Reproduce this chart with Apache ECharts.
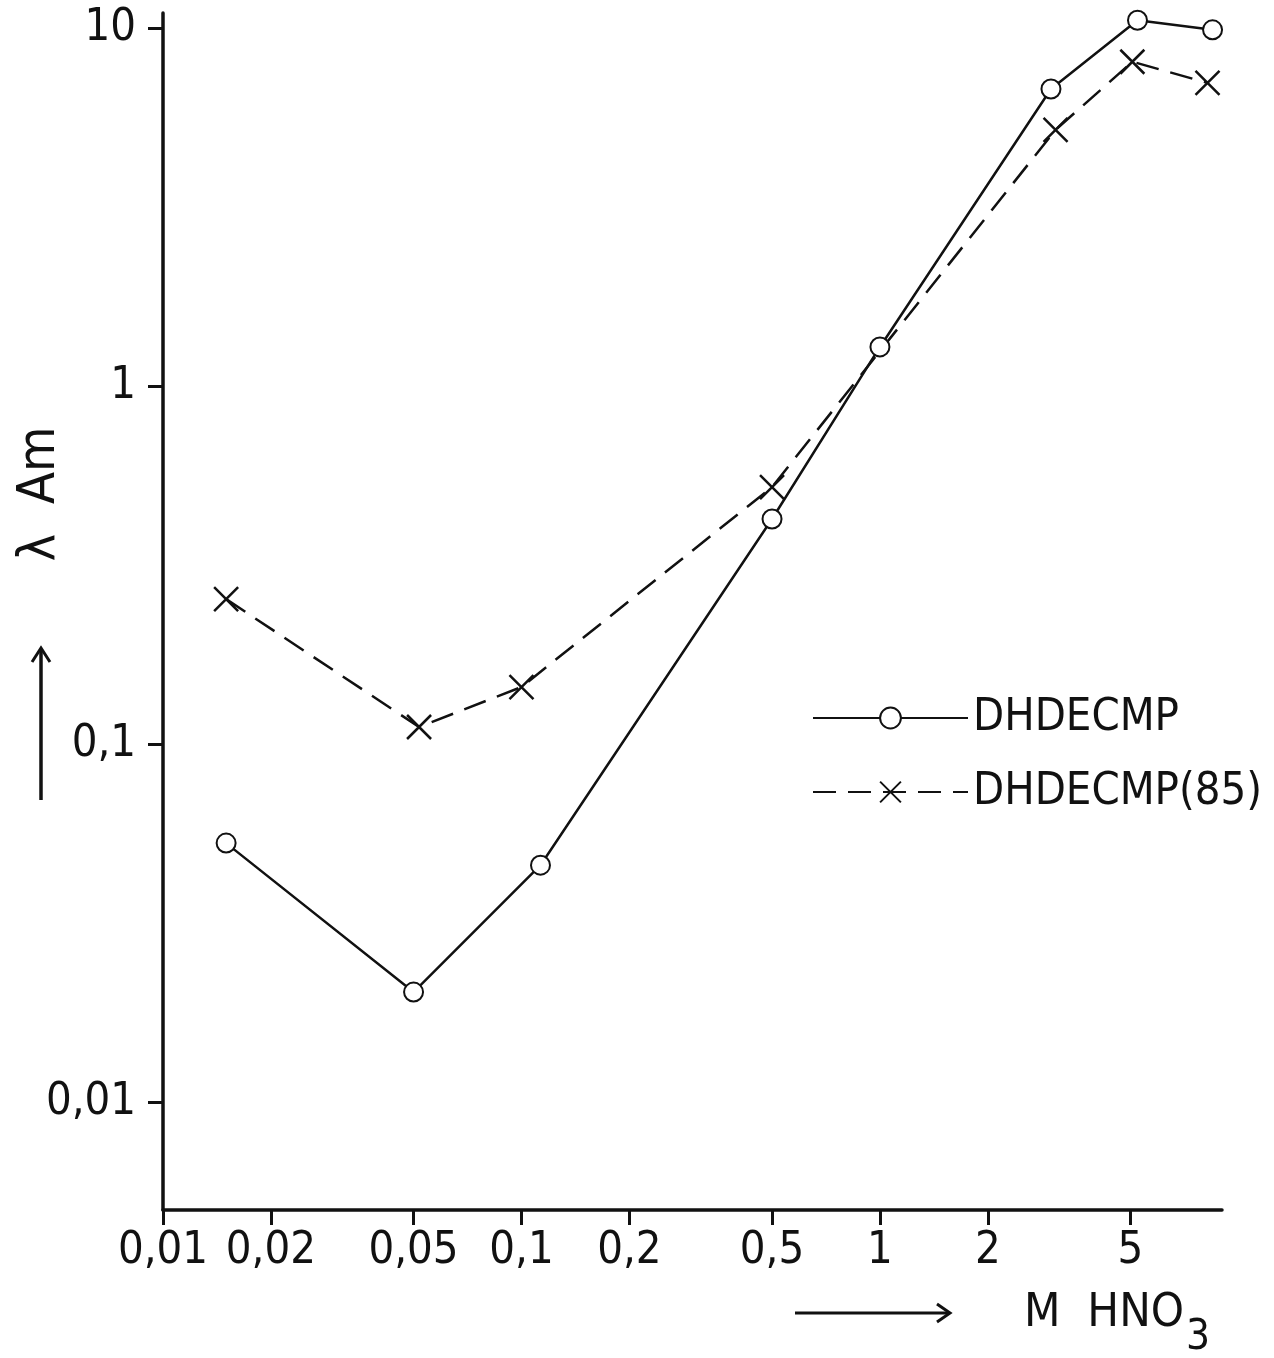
<!DOCTYPE html>
<html>
<head>
<meta charset="utf-8">
<script src="https://cdn.jsdelivr.net/npm/echarts@6/dist/echarts.min.js"></script>
<style>
html,body{margin:0;padding:0;background:#fff;}
#chart{width:1274px;height:1358px;}
</style>
</head>
<body>
<div id="chart"></div>
<script>
// ---- data ----
const seriesNames = ['DHDECMP', 'DHDECMP(85)'];
const dhdecmpX = [0.015, 0.05, 0.113, 0.5, 1.0, 3.0, 5.23, 8.47];
const dhdecmpY = [0.0529, 0.0203, 0.0459, 0.425, 1.285, 6.75, 10.5, 9.87];
const dhdecmp85X = [0.015, 0.0518, 0.1, 0.5, 3.09, 5.06, 8.2];
const dhdecmp85Y = [0.254, 0.1116, 0.1443, 0.522, 5.19, 8.04, 7.02];
const xTickValues = [0.01, 0.02, 0.05, 0.1, 0.2, 0.5, 1, 2, 5];
const xTickLabels = ['0,01', '0,02', '0,05', '0,1', '0,2', '0,5', '1', '2', '5'];
const yTickValues = [0.01, 0.1, 1, 10];
const yTickLabels = ['0,01', '0,1', '1', '10'];
const xTitle = 'M  HNO';
const xTitleSub = '3';
const yTitle = 'λ  Am';

const FONT = "'DejaVu Sans Condensed', 'Liberation Sans Narrow', 'Liberation Sans', sans-serif";
const pairs = (xs, ys) => xs.map((x, i) => [x, ys[i]]);
const labelFor = (vals, labels) => v => {
  for (let i = 0; i < vals.length; i++) {
    if (Math.abs(Math.log10(v) - Math.log10(vals[i])) < 1e-6) return labels[i];
  }
  return '';
};

const chart = echarts.init(document.getElementById('chart'), null, {renderer: 'canvas'});
chart.setOption({
  animation: false,
  backgroundColor: '#fff',
  grid: {left: 163, right: 52, top: 13, bottom: 148, containLabel: false},
  xAxis: {
    type: 'log', logBase: 10, min: 0.01, max: 9,
    splitLine: {show: false},
    axisLine: {show: true, lineStyle: {color: '#111', width: 3.5}},
    axisTick: {show: true, inside: false, length: 15, lineStyle: {color: '#111', width: 3}, customValues: xTickValues},
    axisLabel: {show: true, margin: 19, color: '#111', fontSize: 45, fontFamily: FONT,
      customValues: xTickValues, formatter: labelFor(xTickValues, xTickLabels)},
    minorTick: {show: false}
  },
  yAxis: {
    type: 'log', logBase: 10, min: 0.005, max: 11,
    splitLine: {show: false},
    axisLine: {show: true, lineStyle: {color: '#111', width: 3.5}},
    axisTick: {show: true, inside: false, length: 15, lineStyle: {color: '#111', width: 3}, customValues: yTickValues},
    axisLabel: {show: true, margin: 27, color: '#111', fontSize: 45, fontFamily: FONT,
      customValues: yTickValues, formatter: labelFor(yTickValues, yTickLabels)},
    minorTick: {show: false}
  },
  legend: {
    data: seriesNames,
    orient: 'vertical',
    left: 807, top: 688,
    itemWidth: 155, itemHeight: 26, itemGap: 24,
    textStyle: {color: '#111', fontSize: 45, fontFamily: FONT, lineHeight: 50},
    selectedMode: false
  },
  series: [
    {
      name: seriesNames[0], type: 'line', z: 4,
      data: pairs(dhdecmpX, dhdecmpY),
      symbol: 'emptyCircle', symbolSize: 19,
      lineStyle: {color: '#111', width: 2.5, type: 'solid'},
      itemStyle: {color: '#111', borderColor: '#111', borderWidth: 2.5},
      emphasis: {disabled: true}
    },
    {
      name: seriesNames[1], type: 'line', z: 3,
      data: pairs(dhdecmp85X, dhdecmp85Y),
      symbol: 'path://M0,0L10,10M10,0L0,10', symbolSize: 24,
      lineStyle: {color: '#111', width: 2.5, type: [23, 12]},
      itemStyle: {color: '#111', borderColor: '#111', borderWidth: 2.5},
      emphasis: {disabled: true}
    }
  ],
  graphic: [
    {type: 'polyline', shape: {points: [[41, 800], [41, 650]]}, style: {stroke: '#111', lineWidth: 3.5, fill: null}},
    {type: 'polyline', shape: {points: [[32, 662], [41, 648], [50, 662]]}, style: {stroke: '#111', lineWidth: 3, fill: null}},
    {type: 'text', x: 40, y: 494, rotation: Math.PI / 2,
      style: {text: yTitle, fontSize: 52, fontFamily: FONT, fill: '#111', align: 'center', verticalAlign: 'middle'}},
    {type: 'polyline', shape: {points: [[795, 1313], [948, 1313]]}, style: {stroke: '#111', lineWidth: 3, fill: null}},
    {type: 'polyline', shape: {points: [[937, 1304], [950, 1313], [937, 1322]]}, style: {stroke: '#111', lineWidth: 3, fill: null}},
    {type: 'text', x: 1024, y: 1314,
      style: {text: xTitle, fontSize: 47, fontFamily: FONT, fill: '#111', align: 'left', verticalAlign: 'middle'}},
    {type: 'text', x: 1186, y: 1338,
      style: {text: xTitleSub, fontSize: 42, fontFamily: FONT, fill: '#111', align: 'left', verticalAlign: 'middle'}}
  ]
});
</script>
</body>
</html>
